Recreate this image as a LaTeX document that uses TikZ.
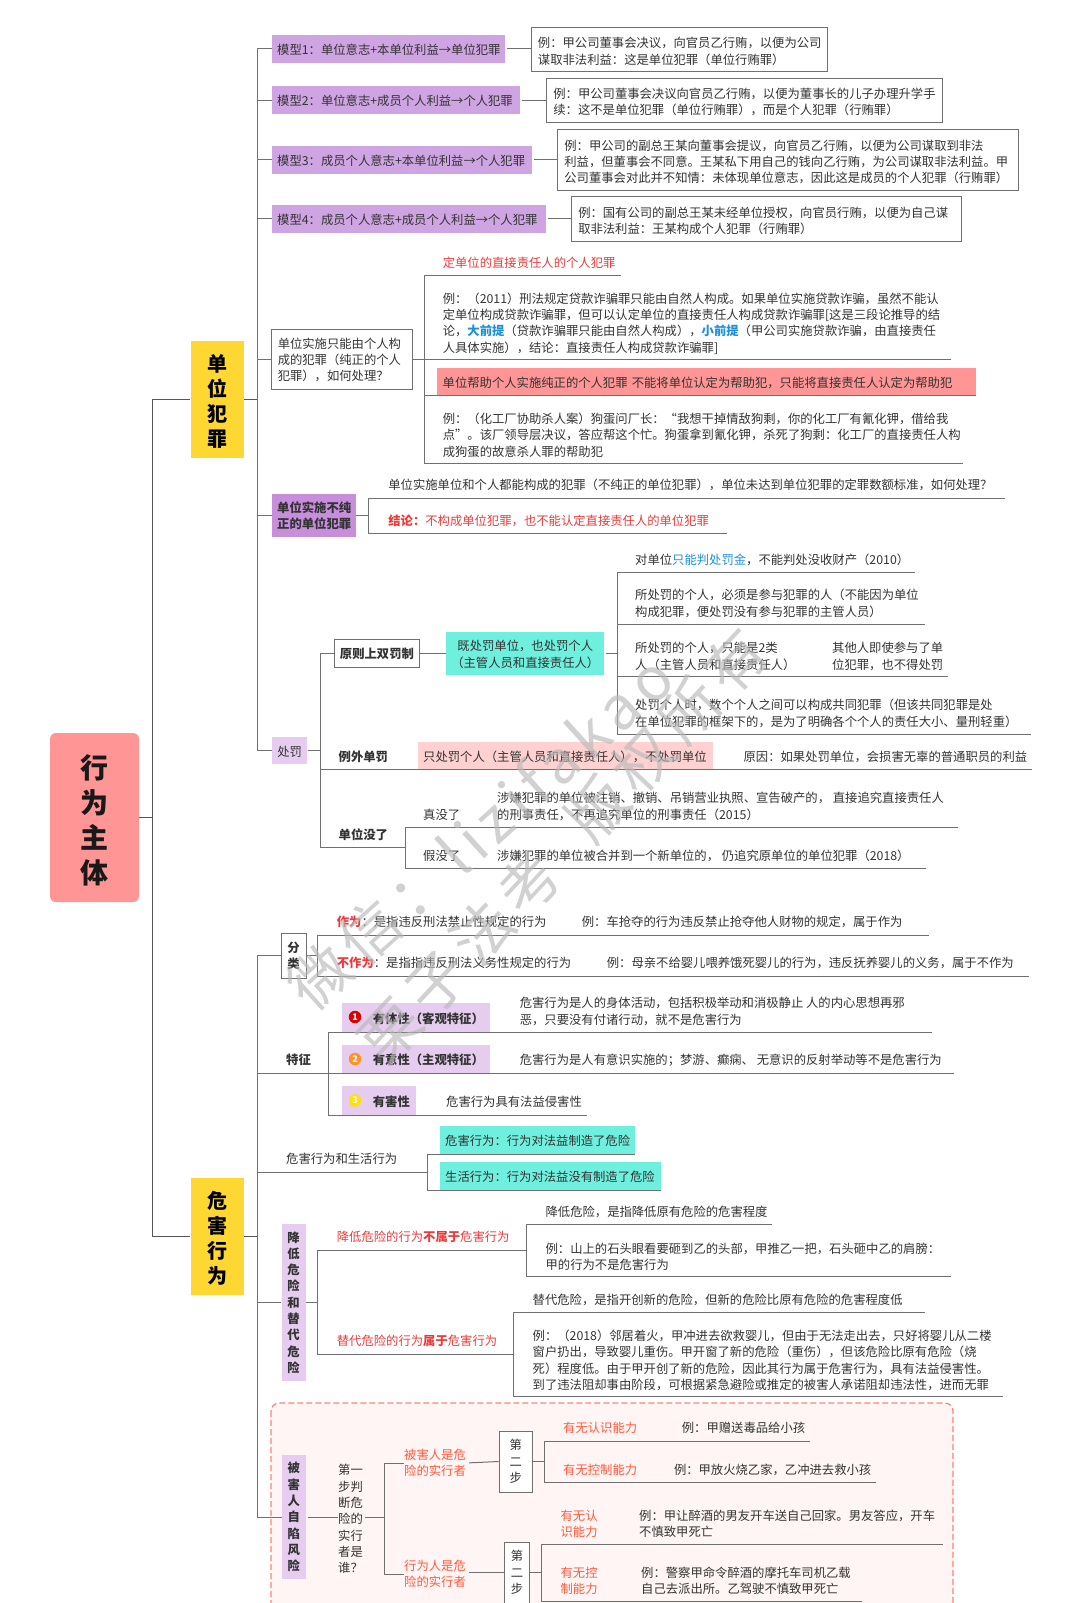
\documentclass[tikz,border=0pt]{standalone}
\usepackage{fontspec}
\setmainfont{Noto Sans CJK SC}
\usetikzlibrary{positioning}
\definecolor{txtc}{HTML}{333333}
\definecolor{linec}{HTML}{707070}
\definecolor{mainc}{HTML}{555555}
\definecolor{rootc}{HTML}{FF9595}
\definecolor{yelc}{HTML}{FFD733}
\definecolor{modc}{HTML}{CFA4E2}
\definecolor{darkc}{HTML}{C68EDB}
\definecolor{lightc}{HTML}{E6CDF0}
\definecolor{tealc}{HTML}{6FF0DE}
\definecolor{pinkc}{HTML}{FFD1D1}
\definecolor{redc}{HTML}{E93B3B}
\definecolor{orc}{HTML}{FF5A3C}
\definecolor{bluec}{HTML}{1E90D6}
\newcommand{\boldlab}{\fontsize{12.33}{16.3}\bfseries\selectfont}
\tikzset{
  lab/.style={anchor=west,inner sep=0pt,align=left,text=txtc,font=\fontsize{12.33}{16.3}\selectfont,execute at begin node={\rule{0pt}{12.4pt}}},
  modbox/.style={lab,fill=modc,inner xsep=5pt,minimum height=28pt},
  exbox/.style={lab,draw=linec,line width=0.9pt,fill=white,inner xsep=6.5pt,inner ysep=5.5pt},
  exlow/.style={execute at begin node={\rule{0pt}{15pt}}},
  vbox/.style={inner sep=0pt,align=center,text=txtc,font=\boldlab,minimum width=24pt,execute at begin node={\rule{0pt}{13pt}}},
  stepbox/.style={vbox,draw=linec,line width=0.9pt,fill=white,font=\fontsize{12.33}{16.3}\selectfont},
  bigbox/.style={inner sep=0pt,align=center,fill=yelc,text=black,text width=53pt,minimum height=117pt,font=\fontsize{20}{25}\bfseries\selectfont,execute at begin node={\rule{0pt}{20.6pt}}},
  numdot/.style={circle,inner sep=0pt,minimum size=12.5pt,text=white,font=\fontsize{9}{9}\bfseries\selectfont},
  link/.style={draw=linec,line width=1pt},
  mainlink/.style={draw=mainc,line width=1.5pt},
  wmk/.style={text=gray!55,text opacity=.65,inner sep=0pt,font=\fontsize{60}{60}\selectfont},
}
\begin{document}
\begin{tikzpicture}[x=1pt,y=-1pt]
\useasboundingbox (0,0) rectangle (1080,1603);
\clip (0,0) rectangle (1080,1603);
\draw[draw=orc!60!pink,fill=red!4,line width=1.2pt,dash pattern=on 6pt off 3pt,rounded corners=8pt] (271,1403) rectangle (953,1660);
% root and the two big parts
\node[fill=rootc,rounded corners=6pt,inner sep=0pt,align=center,text=black!90,text width=89pt,minimum height=169pt,font=\fontsize{28}{35}\bfseries\selectfont,execute at begin node={\rule{0pt}{30.6pt}}] (root) at (94.5,817.5) {行\\为\\主\\体};
\node[bigbox] (unit) at (217.3,399.3) {单\\位\\犯\\罪};
\node[bigbox] (harm) at (217.3,1236.5) {危\\害\\行\\为};
\coordinate (spine) at (152.7,817.5);
\draw[mainlink] (root.east) -- (spine);
\draw[mainlink,shorten <=1pt] (unit.west) -| (spine);
\draw[mainlink,shorten <=1pt] (harm.west) -| (spine);
\coordinate (unitbus) at (257,399.3);
\coordinate (harmbus) at (257,1236.5);
\draw[mainlink,line width=1pt] (unit.east) -- (unitbus);
\draw[mainlink,line width=1pt] (harm.east) -- (harmbus);
% models
\node[modbox,text width=223pt] (mod1) at (272,49) {模型1：单位意志+本单位利益→单位犯罪};
\node[modbox,text width=237.5pt] (mod2) at (272,100) {模型2：单位意志+成员个人利益→个人犯罪};
\node[modbox,text width=249.5pt] (mod3) at (272,159.5) {模型3：成员个人意志+本单位利益→个人犯罪};
\node[modbox,text width=263.4pt] (mod4) at (272,218.5) {模型4：成员个人意志+成员个人利益→个人犯罪};
\node[exbox,exlow,text width=282.5pt,minimum height=44pt] (ex1) at (531,49) {例：甲公司董事会决议，向官员乙行贿，以便为公司\\谋取非法利益：这是单位犯罪（单位行贿罪）};
\node[exbox,exlow,text width=382.6pt,minimum height=44pt] (ex2) at (546.4,100) {例：甲公司董事会决议向官员乙行贿，以便为董事长的儿子办理升学手\\续：这不是单位犯罪（单位行贿罪），而是个人犯罪（行贿罪）};
\node[exbox,exlow,text width=447.6pt,minimum height=61pt] (ex3) at (557.4,159.5) {例：甲公司的副总王某向董事会提议，向官员乙行贿，以便为公司谋取到非法\\利益，但董事会不同意。王某私下用自己的钱向乙行贿，为公司谋取非法利益。甲\\公司董事会对此并不知情：未体现单位意志，因此这是成员的个人犯罪（行贿罪）};
\node[exbox,exlow,text width=377pt,minimum height=45pt] (ex4) at (571.3,218.5) {例：国有公司的副总王某未经单位授权，向官员行贿，以便为自己谋\\取非法利益：王某构成个人犯罪（行贿罪）};
\draw[link,shorten <=2pt] (mod1.east) -- (ex1.west);
\draw[link,shorten <=2pt] (mod2.east) -- (ex2.west);
\draw[link,shorten <=2pt] (mod3.east) -- (ex3.west);
\draw[link,shorten <=2pt] (mod4.east) -- (ex4.west);
\draw[link] (mod1.west) -| (unitbus);
\draw[link] (mod2.west) -| (unitbus);
\draw[link] (mod3.west) -| (unitbus);
\draw[link] (mod4.west) -| (unitbus);
% pure personal crimes
\node[exbox,text width=128pt,minimum height=60pt] (pure) at (270.8,359) {单位实施只能由个人构\\成的犯罪（纯正的个人\\犯罪），如何处理？};
\draw[link] (pure.west) -| (unitbus);
\coordinate (purebus) at (424,359);
\coordinate (pe1) at (621,275);
\coordinate (pe2) at (951.4,359);
\coordinate (pe3) at (424,395);
\coordinate (pe4) at (976,395);
\coordinate (pe5) at (963.3,463);
\node[lab,fill=rootc,text width=528pt,minimum height=27pt,inner xsep=5.5pt] (help) at (437,381.5) {单位帮助个人实施纯正的个人犯罪 不能将单位认定为帮助犯，只能将直接责任人认定为帮助犯};
\node[lab] (pt1) at (442.6,262) {\textcolor{redc}{定单位的直接责任人的个人犯罪}};
\node[lab] (pt2) at (442.6,323.5) {例：（2011）刑法规定贷款诈骗罪只能由自然人构成。如果单位实施贷款诈骗，虽然不能认\\定单位构成贷款诈骗罪，但可以认定单位的直接责任人构成贷款诈骗罪[这是三段论推导的结\\论，\textcolor{bluec}{\textbf{大前提}}（贷款诈骗罪只能由自然人构成），\textcolor{bluec}{\textbf{小前提}}（甲公司实施贷款诈骗，由直接责任\\人具体实施），结论：直接责任人构成贷款诈骗罪]};
\node[lab] (pt3) at (442.6,435) {例：（化工厂协助杀人案）狗蛋问厂长：“我想干掉情敌狗剩，你的化工厂有氰化钾，借给我\\点”。该厂领导层决议，答应帮这个忙。狗蛋拿到氰化钾，杀死了狗剩：化工厂的直接责任人构\\成狗蛋的故意杀人罪的帮助犯};
\draw[link] (purebus) |- (pe1);
\draw[link] (pure.east) -- (pe2);
\draw[link] (purebus) |- (pe3) -- (pe4);
\draw[link] (purebus) |- (pe5);
% impure
\node[modbox,fill=darkc,font=\boldlab,minimum height=43pt] (impure) at (272,515.5) {单位实施不纯\\正的单位犯罪};
\draw[link] (impure.west) -| (unitbus);
\coordinate (impbus) at (368.3,515.5);
\coordinate (ie1) at (1005,498);
\coordinate (ie2) at (726.5,533.5);
\node[lab] (it1) at (388.2,484) {单位实施单位和个人都能构成的犯罪（不纯正的单位犯罪），单位未达到单位犯罪的定罪数额标准，如何处理？};
\node[lab] (it2) at (388.2,520) {\textcolor{redc}{\textbf{结论：}不构成单位犯罪，也不能认定直接责任人的单位犯罪}};
\draw[link] (impure.east) -- (impbus);
\draw[link] (impbus) |- (ie1);
\draw[link] (impbus) |- (ie2);
% penalties
\node[modbox,fill=lightc,minimum height=27pt,minimum width=35pt] (pen) at (272,750.5) {处罚};
\draw[link] (pen.west) -| (unitbus);
\coordinate (penbus) at (320.1,750.5);
\draw[link,shorten <=1pt] (pen.east) -- (penbus);
\node[exbox,font=\boldlab,inner xsep=6pt,inner ysep=0pt,minimum height=28pt] (dbl) at (333.5,653) {原则上双罚制};
\node[lab,fill=tealc,align=center,text width=158.2pt,minimum height=43pt,execute at begin node={\rule{0pt}{13pt}}] (dbl2) at (446,653) {既处罚单位，也处罚个人\\（主管人员和直接责任人）};
\draw[link] (dbl.west) -| (penbus);
\draw[link] (dbl.east) -- (dbl2.west);
\coordinate (dblbus) at (617.6,653);
\coordinate (de1) at (914.5,572);
\coordinate (de2) at (924.5,624);
\coordinate (de3) at (948.4,676);
\coordinate (de4) at (1031,734);
\node[lab] (dt1) at (635,558.5) {对单位\textcolor{bluec}{只能判处罚金}，不能判处没收财产（2010）};
\node[lab] (dt2) at (635,603.5) {所处罚的个人，必须是参与犯罪的人（不能因为单位\\构成犯罪，便处罚没有参与犯罪的主管人员）};
\node[lab] (dt3) at (635,656.5) {所处罚的个人，只能是2类\\人（主管人员和直接责任人）};
\node[lab] (dt3b) at (832,656.5) {其他人即使参与了单\\位犯罪，也不得处罚};
\node[lab] (dt4) at (635,713.5) {处罚个人时，数个个人之间可以构成共同犯罪（但该共同犯罪是处\\在单位犯罪的框架下的，是为了明确各个个人的责任大小、量刑轻重）};
\draw[link,shorten <=1pt] (dbl2.east) -- (dblbus);
\draw[link] (dblbus) |- (de1);
\draw[link] (dblbus) |- (de2);
\draw[link] (dblbus) |- (de3);
\draw[link] (dblbus) |- (de4);
\coordinate (se1) at (1032,769);
\node[lab,fill=pinkc,text width=285pt,minimum height=27pt,inner xsep=5pt] (single2) at (418,755.5) {只处罚个人（主管人员和直接责任人），不处罚单位};
\node[lab,font=\boldlab] (single) at (338.5,755.5) {例外单罚};
\node[lab] (single3) at (743.4,755.5) {原因：如果处罚单位，会损害无辜的普通职员的利益};
\draw[link] (penbus) |- (se1);
\coordinate (gonebus) at (405,847);
\coordinate (ge1) at (958.3,827);
\coordinate (ge2) at (925.5,868);
\node[lab,font=\boldlab] (gone) at (338.5,834) {单位没了};
\node[lab] (gt1) at (423,814) {真没了};
\node[lab] (gt1b) at (497,806.5) {涉嫌犯罪的单位被注销、撤销、吊销营业执照、宣告破产的， 直接追究直接责任人\\的刑事责任，不再追究单位的刑事责任（2015）};
\node[lab] (gt2) at (423,854.5) {假没了};
\node[lab] (gt2b) at (497,854.5) {涉嫌犯罪的单位被合并到一个新单位的， 仍追究原单位的单位犯罪（2018）};
\draw[link] (penbus) |- (gonebus);
\draw[link] (gonebus) |- (ge1);
\draw[link] (gonebus) |- (ge2);
% kinds of act
\node[stepbox,font=\boldlab,minimum height=45pt,minimum width=25pt] (kind) at (293.5,955.5) {分\\类};
\draw[link] (kind.west) -| (harmbus);
\coordinate (kindbus) at (317.3,955.5);
\coordinate (ke1) at (929,935);
\coordinate (ke2) at (1029,976);
\node[lab] (kt1) at (336.7,921) {\textcolor{redc}{\textbf{作为}}：是指违反刑法禁止性规定的行为};
\node[lab] (kt1b) at (581.7,921) {例：车抢夺的行为违反禁止抢夺他人财物的规定，属于作为};
\node[lab] (kt2) at (336.7,962) {\textcolor{redc}{\textbf{不作为}}：是指指违反刑法义务性规定的行为};
\node[lab] (kt2b) at (606.7,962) {例：母亲不给婴儿喂养饿死婴儿的行为，违反抚养婴儿的义务，属于不作为};
\draw[link] (kind.east) -- (kindbus);
\draw[link] (kindbus) |- (ke1);
\draw[link] (kindbus) |- (ke2);
% features
\node[lab,font=\boldlab] (feat) at (286,1059) {特征};
\coordinate (featbus) at (328.3,1073);
\coordinate (fe0) at (954.3,1073);
\coordinate (fe1) at (931.5,1032);
\coordinate (fe3) at (587.2,1115);
\node[lab,fill=lightc,text width=147.6pt,minimum height=29pt,inner xsep=0pt,font=\boldlab] (f1) at (341.7,1017.5) {\hspace{31pt}有体性（客观特征）};
\node[lab,fill=lightc,text width=147.6pt,minimum height=28pt,inner xsep=0pt,font=\boldlab] (f2) at (341.7,1059) {\hspace{31pt}有意性（主观特征）};
\node[lab,fill=lightc,text width=74pt,minimum height=29pt,inner xsep=0pt,font=\boldlab] (f3) at (341.7,1100.5) {\hspace{31pt}有害性};
\node[numdot,fill=red!85!black] (n1) at (355,1017) {1};
\node[numdot,fill=orange!85] (n2) at (355,1059) {2};
\node[numdot,fill=yellow!85!orange] (n3) at (355,1100.5) {3};
\node[lab] (ft1) at (519.6,1011.5) {危害行为是人的身体活动，包括积极举动和消极静止 人的内心思想再邪\\恶，只要没有付诸行动，就不是危害行为};
\node[lab] (ft2) at (519.6,1059.5) {危害行为是人有意识实施的；梦游、癫痫、 无意识的反射举动等不是危害行为};
\node[lab] (ft3) at (446,1101) {危害行为具有法益侵害性};
\draw[link] (harmbus) |- (fe0);
\draw[link] (featbus) |- (fe1);
\draw[link] (featbus) |- (fe3);
% act and daily life
\node[lab] (life) at (286,1158) {危害行为和生活行为};
\coordinate (lifebus) at (427,1172);
\coordinate (le1) at (635,1154);
\coordinate (le2) at (660.5,1190);
\node[lab,fill=tealc,text width=185pt,minimum height=28pt,inner xsep=5pt] (l1) at (440,1140) {危害行为：行为对法益制造了危险};
\node[lab,fill=tealc,text width=210.5pt,minimum height=28pt,inner xsep=5pt] (l2) at (440,1176) {生活行为：行为对法益没有制造了危险};
\draw[link] (harmbus) |- (lifebus);
\draw[link] (lifebus) |- (le1);
\draw[link] (lifebus) |- (le2);
% lowering the risk
\node[vbox,fill=lightc,minimum height=157pt] (risk) at (293.5,1302.5) {降\\低\\危\\险\\和\\替\\代\\危\\险};
\draw[link] (risk.west) -| (harmbus);
\coordinate (riskbus) at (317.3,1302.5);
\coordinate (rk1) at (526.2,1250);
\coordinate (rk2) at (513.6,1354);
\coordinate (rk1a) at (772.3,1224);
\coordinate (rk1b) at (951.4,1276);
\coordinate (rk2a) at (924.5,1312);
\coordinate (rk2b) at (1003,1396);
\node[lab] (rt1) at (336.7,1236) {\textcolor{redc}{降低危险的行为\textbf{不属于}危害行为}};
\node[lab] (rt2) at (336.7,1340) {\textcolor{redc}{替代危险的行为\textbf{属于}危害行为}};
\node[lab] (rt1a) at (545.4,1211) {降低危险，是指降低原有危险的危害程度};
\node[lab] (rt1b) at (545.4,1256.5) {例：山上的石头眼看要砸到乙的头部，甲推乙一把，石头砸中乙的肩膀：\\甲的行为不是危害行为};
\node[lab] (rt2a) at (532.5,1299) {替代危险，是指开创新的危险，但新的危险比原有危险的危害程度低};
\node[lab] (rt2b) at (532.5,1360.5) {例：（2018）邻居着火，甲冲进去欲救婴儿，但由于无法走出去，只好将婴儿从二楼\\窗户扔出，导致婴儿重伤。甲开窗了新的危险（重伤），但该危险比原有危险（烧\\死）程度低。由于甲开创了新的危险，因此其行为属于危害行为，具有法益侵害性。\\到了违法阻却事由阶段，可根据紧急避险或推定的被害人承诺阻却违法性，进而无罪};
\draw[link] (risk.east) -- (riskbus);
\draw[link] (riskbus) |- (rk1);
\draw[link] (riskbus) |- (rk2);
\draw[link] (rk1) |- (rk1a);
\draw[link] (rk1) |- (rk1b);
\draw[link] (rk2) |- (rk2a);
\draw[link] (rk2) |- (rk2b);
% victim's self-endangerment
\node[vbox,fill=lightc,minimum height=124pt] (vict) at (293.8,1517) {被\\害\\人\\自\\陷\\风\\险};
\node[lab] (who) at (338,1519) {第一\\步判\\断危\\险的\\实行\\者是\\谁？};
\draw[link] (vict.west) -| (harmbus);
\draw[link,shorten <=2pt] (vict.east) -- (who.west |- vict.east);
\coordinate (whobus) at (384.3,1517);
\draw[link,shorten <=2pt] (who.east |- whobus) -- (whobus);
\node[lab,text=orc] (v1) at (404,1463) {被害人是危\\险的实行者};
\node[lab,text=orc] (v2) at (404,1574) {行为人是危\\险的实行者};
\draw[link] (whobus) |- (v1.west);
\draw[link] (whobus) |- (v2.west);
\node[stepbox,minimum width=33.3pt,minimum height=61pt] (s1) at (515.8,1461.5) {第\\二\\步};
\node[stepbox,minimum width=25.6pt,minimum height=61pt] (s2) at (517,1572.5) {第\\二\\步};
\draw[link,shorten <=3pt] (v1.east) -- (s1.west);
\draw[link,shorten <=3pt] (v2.east |- s2.west) -- (s2.west);
\coordinate (s1bus) at (544.4,1461.5);
\coordinate (s2bus) at (541.5,1572.5);
\coordinate (se11) at (810,1441);
\coordinate (se12) at (876,1482);
\coordinate (se21) at (943.4,1544);
\coordinate (se22) at (861.8,1601);
\node[lab,text=orc] (c1) at (563,1427) {有无认识能力};
\node[lab] (c1b) at (681.7,1427) {例：甲赠送毒品给小孩};
\node[lab,text=orc] (c2) at (563,1469) {有无控制能力};
\node[lab] (c2b) at (673.8,1469) {例：甲放火烧乙家，乙冲进去救小孩};
\node[lab,text=orc] (c3) at (560.4,1524) {有无认\\识能力};
\node[lab] (c3b) at (639,1524) {例：甲让醉酒的男友开车送自己回家。男友答应，开车\\不慎致甲死亡};
\node[lab,text=orc] (c4) at (560.4,1581) {有无控\\制能力};
\node[lab] (c4b) at (641,1581) {例：警察甲命令醉酒的摩托车司机乙载\\自己去派出所。乙驾驶不慎致甲死亡};
\draw[link] (s1.east) -- (s1bus);
\draw[link] (s2.east) -- (s2bus);
\draw[link] (s1bus) |- (se11);
\draw[link] (s1bus) |- (se12);
\draw[link] (s2bus) |- (se21);
\draw[link] (s2bus) |- (se22);
% watermark
\node[wmk,rotate=42] (wm1) at (480,832) {\addfontfeature{LetterSpace=12}微信：lizifakao};
\node[wmk,rotate=47] (wm2) at (563,846) {\addfontfeature{LetterSpace=13}栗子法考\hspace{40pt}版权所有};
\end{tikzpicture}
\end{document}
